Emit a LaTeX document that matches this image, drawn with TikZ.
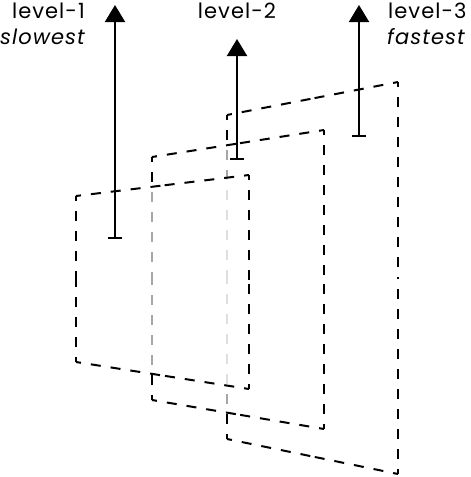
\documentclass[tikz,border=0pt]{standalone}
\usepackage{fontspec}
\setmainfont{Poppins}[LetterSpace=5]
\usetikzlibrary{arrows.meta,calc}

\begin{document}
\begin{tikzpicture}[
  x=1pt,y=-1pt,
  font=\fontsize{21}{25}\selectfont,
  arrow/.style={{Bar[width=14pt]}-{Triangle[length=17pt,width=20pt]},line width=2pt,draw=black},
  planefill/.style={fill=white,fill opacity=0.65},
  edge/.style={line width=2pt,draw=black,dash pattern=on 10pt off 10pt,dash phase=5pt},
  lbl/.style={inner sep=0pt,text=black}
]
\useasboundingbox (0,0) rectangle (471,477);

% -------------------------------------------------------------------------
% planes, back to front
% -------------------------------------------------------------------------
\coordinate (p1-tl) at (76,196);
\coordinate (p1-tr) at (249,175);
\coordinate (p1-br) at (249,389);
\coordinate (p1-bl) at (76,362);
\coordinate (p2-tl) at (152,157);
\coordinate (p2-tr) at (324,130);
\coordinate (p2-br) at (324,429);
\coordinate (p2-bl) at (152,400);
\coordinate (p3-tl) at (227,115);
\coordinate (p3-tr) at (398,82);
\coordinate (p3-br) at (398,474);
\coordinate (p3-bl) at (227,439);

\foreach \p in {3,2,1}
{
  \fill[planefill] (p\p-tl) -- (p\p-tr) -- (p\p-br) -- (p\p-bl) -- cycle;
  \foreach \a/\b in {tl/tr,tr/br,br/bl,bl/tl}
  {
    \draw[edge] (p\p-\a) -- ($(p\p-\a)!.5!(p\p-\b)$);
    \draw[edge] (p\p-\b) -- ($(p\p-\a)!.5!(p\p-\b)$);
  }
}

% -------------------------------------------------------------------------
% levels
% -------------------------------------------------------------------------
\coordinate (a1-lo) at (115,239);
\coordinate (a1-hi) at (115,5);
\coordinate (a2-lo) at (237,160);
\coordinate (a2-hi) at (237,39);
\coordinate (a3-lo) at (359,137);
\coordinate (a3-hi) at (359,5);
\foreach \i in {1,2,3}
  {\draw[arrow] (a\i-lo) -- (a\i-hi);}

\node[lbl,anchor=base east] (lv1) at (85,18) {level-1};
\node[lbl,anchor=base east] (slow1) at (85,44) {\itshape slowest};
\node[lbl,anchor=base] (lv2) at (237,18) {level-2};
\node[lbl,anchor=base west] (lv3) at (388,18) {level-3};
\node[lbl,anchor=base west] (fast3) at (387,44) {\itshape fastest};
\end{tikzpicture}
\end{document}
